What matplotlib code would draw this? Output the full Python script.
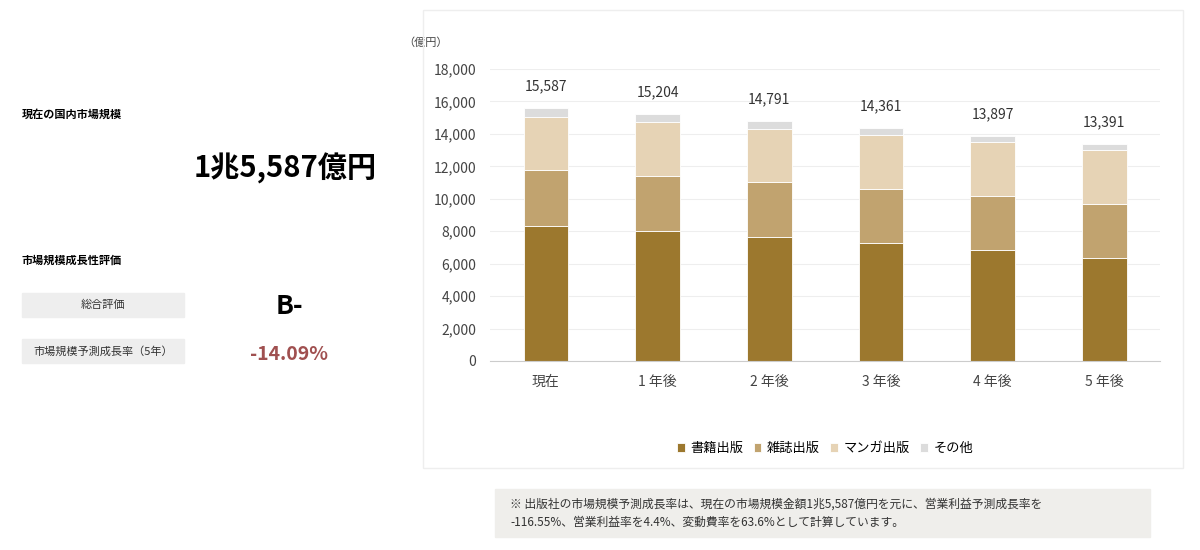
import matplotlib.pyplot as plt
from matplotlib.patches import Rectangle
import numpy as np

plt.rcParams['font.family'] = 'Noto Sans CJK JP'

categories = ['現在', '1 年後', '2 年後', '3 年後', '4 年後', '5 年後']
books = [8300, 8010, 7640, 7270, 6840, 6350]
magazines = [3470, 3390, 3390, 3330, 3330, 3330]
manga = [3270, 3330, 3270, 3330, 3330, 3330]
totals = [15587, 15204, 14791, 14361, 13897, 13391]
series_names = ['書籍出版', '雑誌出版', 'マンガ出版', 'その他']
colors = ['#9c782e', '#c1a36f', '#e6d3b5', '#dcdcdc']

other = [t - b - m - g for t, b, m, g in zip(totals, books, magazines, manga)]

fig = plt.figure(figsize=(12, 5.5), dpi=100)

# chart frame
fig.patches.append(Rectangle((423/1200, 1-468/550), 760/1200, 458/550, transform=fig.transFigure,
                             fill=False, edgecolor='#eeeeee', lw=1))

ax = fig.add_axes([490/1200, 1-361/550, 670/1200, 292/550])
x = np.arange(len(categories))
bottom = np.zeros(len(categories))
for vals, c, name in zip([books, magazines, manga, other], colors, series_names):
    ax.bar(x, vals, 0.4, bottom=bottom, color=c, label=name, edgecolor='white', linewidth=0.6)
    bottom += np.array(vals)
for xi, t in zip(x, totals):
    ax.text(xi, t + 900, f'{t:,}', ha='center', va='bottom', fontsize=10, color='#333333')

ax.set_ylim(0, 18000)
ax.set_xlim(-0.5, len(categories) - 0.5)
ax.set_yticks(range(0, 18001, 2000))
ax.set_yticklabels([f'{v:,}' for v in range(0, 18001, 2000)])
ax.set_xticks(x)
ax.set_xticklabels(categories)
ax.tick_params(length=0, labelsize=10, colors='#444444', pad=10)
ax.grid(axis='y', color='#eeeeee', lw=0.8)
ax.set_axisbelow(True)
for s in ['top', 'right', 'left']:
    ax.spines[s].set_visible(False)
ax.spines['bottom'].set_color('#cccccc')
ax.text(-0.13, 1.08, '（億円）', transform=ax.transAxes, fontsize=8, color='#444444')
ax.legend(loc='center', bbox_to_anchor=(0.5, -0.3), ncol=4, frameon=False, fontsize=9.5,
          handlelength=0.6, handleheight=0.6, columnspacing=0.8, handletextpad=0.4)

# left panel
fig.text(22/1200, 1-114/550, '現在の国内市場規模', fontsize=8, fontweight='bold', va='center')
fig.text(285/1200, 1-168/550, '1兆5,587億円', fontsize=21, fontweight='bold', ha='center', va='center')
fig.text(22/1200, 1-260/550, '市場規模成長性評価', fontsize=8, fontweight='bold', va='center')
for yy, label in [(305, '総合評価'), (351, '市場規模予測成長率（5年）')]:
    fig.patches.append(Rectangle((22/1200, 1-(yy+12)/550), 162/1200, 24/550,
                                 transform=fig.transFigure, color='#eeeeee'))
    fig.text(103/1200, 1-yy/550, label, fontsize=8, ha='center', va='center', color='#333333')
fig.text(289/1200, 1-307/550, 'B-', fontsize=19, fontweight='bold', ha='center', va='center')
fig.text(289/1200, 1-354/550, '-14.09%', fontsize=14, fontweight='bold', ha='center', va='center', color='#a05050')

# note box
fig.patches.append(Rectangle((495/1200, 1-537/550), 655/1200, 48/550,
                             transform=fig.transFigure, color='#efeeeb'))
fig.text(510/1200, 1-513/550,
         '※ 出版社の市場規模予測成長率は、現在の市場規模金額1兆5,587億円を元に、営業利益予測成長率を\n'
         '-116.55%、営業利益率を4.4%、変動費率を63.6%として計算しています。',
         fontsize=8.5, va='center', color='#333333', linespacing=1.5)

fig.savefig('out.png')
